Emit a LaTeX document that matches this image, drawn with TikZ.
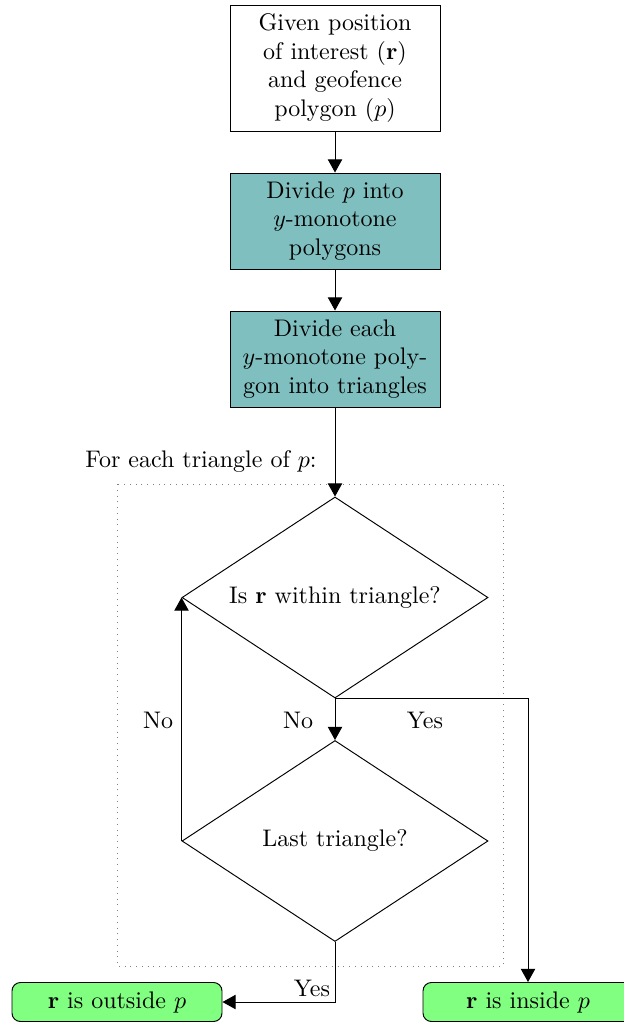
\documentclass[tikz,border=0pt]{standalone}
\usetikzlibrary{arrows.meta,shapes.geometric}
\begin{document}
\begin{tikzpicture}[x=0.41667pt,y=-0.41667pt,
 box/.style={draw, rectangle, minimum width=87.5pt, align=center, inner sep=3pt},
 proc/.style={box, fill=teal!50},
 decision/.style={draw, diamond, aspect=1.52, minimum width=127.5pt, minimum height=83.75pt, inner sep=0pt},
 term/.style={draw, rectangle, rounded corners=3.5pt, fill=green!50, minimum width=87.5pt, minimum height=16.25pt},
 arr/.style={-{Triangle[length=5.5pt,width=6pt]}},
 lbl/.style={inner sep=0pt}]
\useasboundingbox (0,0) rectangle (624,1023);
\node[box, minimum height=52.5pt] (given) at (335,68) {Given position\\of interest ($\mathbf{r}$)\\and geofence\\polygon ($p$)};
\node[proc, minimum height=40pt] (divide) at (335,221) {Divide $p$ into\\$y$-monotone\\polygons};
\node[proc, minimum height=40pt] (tri) at (335,359) {Divide each\\$y$-monotone poly-\\gon into triangles};
\node (foreach) at (201,462) {For each triangle of $p$:};
\draw[dotted, gray] (117,484) rectangle (503,966);
\node[decision] (within) at (335,597.5) {Is $\mathbf{r}$ within triangle?};
\node[decision] (last) at (335,841) {Last triangle?};
\node[term] (outside) at (117,1002) {$\mathbf{r}$ is outside $p$};
\node[term] (inside) at (528,1002) {$\mathbf{r}$ is inside $p$};
\draw[arr] (given) -- (divide);
\draw[arr] (divide) -- (tri);
\draw[arr] (tri) -- (within);
\draw[arr] (within.south) -- (last.north);
\draw[arr] (within.south) -| (inside.north);
\draw[arr] (last.west) -- (within.west);
\draw[arr] (last.south) |- (outside.east);
\node (nomain) at (298,720) {No};
\node (yesin) at (425,720) {Yes};
\node (noloop) at (158,720) {No};
\node (yesout) at (312,988) {Yes};
\end{tikzpicture}
\end{document}
